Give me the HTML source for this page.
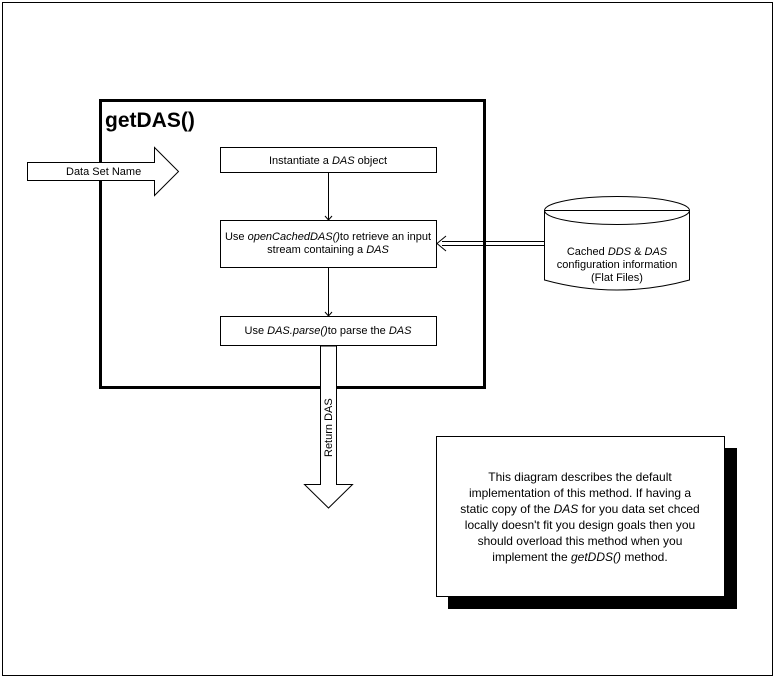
<!DOCTYPE html>
<html><head><style>
body{margin:0;background:#fff}
svg text{font-family:"Liberation Sans",Arial,sans-serif;font-size:11px;fill:#000}
</style></head><body>
<svg width="775" height="678" viewBox="0 0 775 678" xmlns="http://www.w3.org/2000/svg">
<rect x="2.5" y="2.5" width="770" height="673" fill="#fff" stroke="#000"/>
<rect x="100.5" y="100.5" width="384" height="287" fill="none" stroke="#000" stroke-width="3"/>
<text x="105" y="127" style="font-size:21px;font-weight:bold">getDAS()</text>
<!-- data set name arrow (on top of border) -->
<polygon points="27.5,162.5 154.5,162.5 154.5,147.5 178.5,171.5 154.5,195.5 154.5,180.5 27.5,180.5" fill="#fff" stroke="#000"/>
<text x="66" y="175">Data Set Name</text>
<!-- boxes -->
<rect x="220.5" y="147.5" width="216" height="25" fill="#fff" stroke="#000"/>
<text x="328" y="164" text-anchor="middle">Instantiate a <tspan font-style="italic">DAS</tspan> object</text>
<line x1="328.5" y1="172" x2="328.5" y2="220" stroke="#000"/>
<polyline points="325,216 328.5,220 332,216" fill="none" stroke="#000"/>
<rect x="220.5" y="220.5" width="216" height="47" fill="#fff" stroke="#000"/>
<text x="328" y="240" text-anchor="middle">Use <tspan font-style="italic">openCachedDAS()</tspan>to retrieve an input</text>
<text x="328" y="253" text-anchor="middle">stream containing a <tspan font-style="italic">DAS</tspan></text>
<line x1="328.5" y1="268" x2="328.5" y2="316" stroke="#000"/>
<polyline points="325,312 328.5,316 332,312" fill="none" stroke="#000"/>
<rect x="220.5" y="316.5" width="216" height="29" fill="#fff" stroke="#000"/>
<text x="328" y="334" text-anchor="middle">Use <tspan font-style="italic">DAS.parse()</tspan>to parse the <tspan font-style="italic">DAS</tspan></text>
<!-- return arrow -->
<polygon points="320.5,346 336.5,346 336.5,484.5 352.5,484.5 328.5,508 304.5,484.5 320.5,484.5" fill="#fff" stroke="#000"/>
<text transform="translate(332,457) rotate(-90)">Return DAS</text>
<!-- double line arrow -->
<line x1="442" y1="241.5" x2="544" y2="241.5" stroke="#000"/>
<line x1="442" y1="245.5" x2="544" y2="245.5" stroke="#000"/>
<polyline points="446,236 437,243.5 446,251" fill="none" stroke="#000"/>
<!-- cylinder -->
<path d="M544.5,210.5 L544.5,280 Q617,300 689.5,280 L689.5,210.5" fill="#fff" stroke="#000"/>
<ellipse cx="617" cy="210.5" rx="72.5" ry="14" fill="#fff" stroke="#000"/>
<line x1="544.5" y1="210.5" x2="689.5" y2="210.5" stroke="#000"/>
<text x="617" y="255" text-anchor="middle">Cached <tspan font-style="italic">DDS</tspan> &amp; <tspan font-style="italic">DAS</tspan></text>
<text x="617" y="268" text-anchor="middle">configuration information</text>
<text x="617" y="281" text-anchor="middle">(Flat Files)</text>
<!-- note -->
<rect x="448" y="448" width="289" height="161" fill="#000"/>
<rect x="436.5" y="436.5" width="288" height="160" fill="#fff" stroke="#000"/>
<text x="580" y="481" text-anchor="middle" style="font-size:12px">This diagram describes the default</text>
<text x="580" y="497" text-anchor="middle" style="font-size:12px">implementation of this method. If having a</text>
<text x="580" y="513" text-anchor="middle" style="font-size:12px">static copy of the <tspan font-style="italic">DAS</tspan> for you data set chced</text>
<text x="580" y="529" text-anchor="middle" style="font-size:12px">locally doesn't fit you design goals then you</text>
<text x="580" y="545" text-anchor="middle" style="font-size:12px">should overload this method when you</text>
<text x="580" y="561" text-anchor="middle" style="font-size:12px">implement the <tspan font-style="italic">getDDS()</tspan> method.</text>
</svg>
</body></html>
